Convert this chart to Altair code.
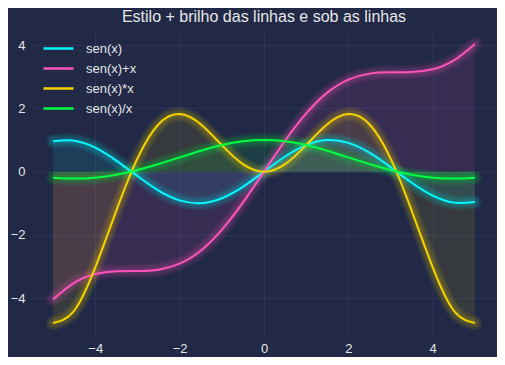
import altair as alt
import pandas as pd

x_vals = [-5.0, -4.5, -4.0, -3.5, -3.0, -2.5, -2.0, -1.5, -1.0, -0.5, 0.0,
          0.5, 1.0, 1.5, 2.0, 2.5, 3.0, 3.5, 4.0, 4.5, 5.0]
sen = [0.96, 0.98, 0.76, 0.35, -0.14, -0.60, -0.91, -1.00, -0.84, -0.48, 0.00,
       0.48, 0.84, 1.00, 0.91, 0.60, 0.14, -0.35, -0.76, -0.98, -0.96]
sen_mais_x = [-4.04, -3.52, -3.24, -3.15, -3.14, -3.10, -2.91, -2.50, -1.84, -0.98, 0.00,
              0.98, 1.84, 2.50, 2.91, 3.10, 3.14, 3.15, 3.24, 3.52, 4.04]
sen_vezes_x = [-4.79, -4.40, -3.03, -1.23, 0.42, 1.50, 1.82, 1.50, 0.84, 0.24, 0.00,
               0.24, 0.84, 1.50, 1.82, 1.50, 0.42, -1.23, -3.03, -4.40, -4.79]
sen_div_x = [-0.19, -0.22, -0.19, -0.10, 0.05, 0.24, 0.45, 0.66, 0.84, 0.96, 1.00,
             0.96, 0.84, 0.66, 0.45, 0.24, 0.05, -0.10, -0.19, -0.22, -0.19]

names = ["sen(x)", "sen(x)+x", "sen(x)*x", "sen(x)/x"]
colors = ["#08F7FE", "#FE53BB", "#F5D300", "#00FF41"]
series = [sen, sen_mais_x, sen_vezes_x, sen_div_x]
x_ticks = [-4, -2, 0, 2, 4]
y_ticks = [-4, -2, 0, 2, 4]

rows = []
for name, ys in zip(names, series):
    for xv, yv in zip(x_vals, ys):
        rows.append({"x": xv, "y": yv, "serie": name})
df = pd.DataFrame(rows)

FONT = "Liberation Sans"
TXT = "#e6e6e6"

xenc = alt.X("x:Q", scale=alt.Scale(domain=[-5.5, 5.5], nice=False, zero=False),
             axis=alt.Axis(values=x_ticks, title=None, labelPadding=5))
yenc = alt.Y("y:Q", scale=alt.Scale(domain=[-5.23, 4.48], nice=False, zero=False),
             axis=alt.Axis(values=y_ticks, title=None, labelPadding=7), stack=None)
cscale = alt.Scale(domain=names, range=colors)
legend = alt.Legend(orient="none", legendX=20, legendY=12, title=None,
                    symbolType="M-3,0L3,0", symbolSize=100, symbolOpacity=1,
                    symbolStrokeWidth=2.5, labelFontSize=13,
                    labelColor=TXT, labelFont=FONT, labelOffset=21,
                    rowPadding=6, padding=0)
c_none = alt.Color("serie:N", scale=cscale, sort=names, legend=None)
c_leg = alt.Color("serie:N", scale=cscale, sort=names, legend=legend)

base = alt.Chart(df)

area = base.mark_area(opacity=0.1, interpolate="natural").encode(
    x=xenc, y=yenc, y2=alt.datum(0), color=c_none,
)

glows = []
for i in range(1, 11):
    glows.append(
        base.mark_line(strokeWidth=2 + 1.35 * i, opacity=0.03, interpolate="natural",
                       strokeCap="round", strokeJoin="round").encode(
            x=xenc, y=yenc, color=c_none,
        )
    )

lines = base.mark_line(strokeWidth=2, interpolate="natural").encode(
    x=xenc, y=yenc, color=c_leg,
)

chart = alt.layer(area, *glows, lines).resolve_legend(color="independent").properties(
    width=464, height=307,
    title=alt.TitleParams("Estilo + brilho das linhas e sob as linhas", fontSize=16,
                          color=TXT, font=FONT, fontWeight="normal", anchor="middle",
                          offset=5),
    padding={"left": 24, "top": 22, "right": 1, "bottom": 20},
    autosize=alt.AutoSizeParams(type="none"),
).configure(background="#212946").configure_view(stroke=None, fill="#212946").configure_axis(
    grid=True, gridColor="#2A3459", gridWidth=1, domain=False, ticks=False,
    labelColor=TXT, labelFontSize=13, labelFont=FONT,
)

chart.save("out.html", embed_options={"renderer": "svg", "actions": False})
